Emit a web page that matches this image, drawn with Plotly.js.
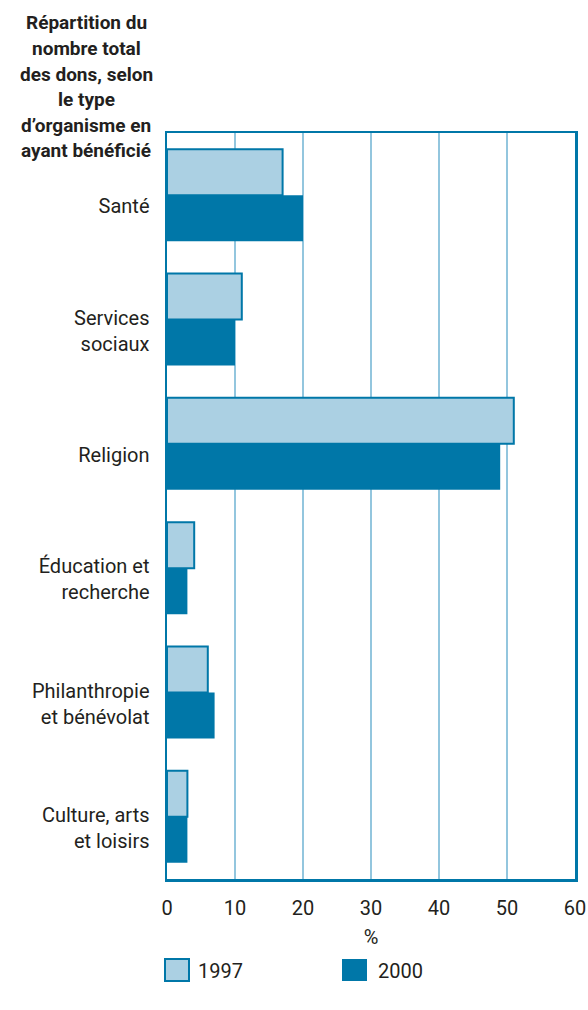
<!DOCTYPE html>
<html>
<head>
<meta charset="utf-8">
<script src="https://cdn.plot.ly/plotly-3.0.1.min.js"></script>
<style>html,body{margin:0;padding:0;background:#fff;}#chart{width:588px;height:1010px;}</style>
</head>
<body>
<div id="chart"></div>
<script>
const categories = ["Santé", "Services<br>sociaux", "Religion", "Éducation et<br>recherche", "Philanthropie<br>et bénévolat", "Culture, arts<br>et loisirs"];
const seriesNames = ["1997", "2000"];
const values1997 = [17, 11, 51, 4, 6, 3];
const values2000 = [20, 10, 49, 3, 7, 3];
const xTicks = [0, 10, 20, 30, 40, 50, 60];
const titleLines = ["Répartition du", "nombre total", "des dons, selon", "le type", "d’organisme en", "ayant bénéficié"];
const xTitle = "%";

const FONT = 'Roboto, "Liberation Sans", Arial, sans-serif';
const DARK = '#0077a8', LIGHT = '#abd0e3', GRID = '#93c6de', TXT = '#231f20';

const L = 167, R = 13, T = 133, B = 131, W = 588, H = 1010;
const pw = W - L - R, ph = H - T - B;
const px = x => (x - L) / pw;
const py = y => (H - B - y) / ph;

const traces = [
  {type: 'bar', orientation: 'h', name: seriesNames[0], y: categories, x: values1997,
   marker: {color: LIGHT, line: {color: DARK, width: 2}}, hoverinfo: 'x+y'},
  {type: 'bar', orientation: 'h', name: seriesNames[1], y: categories, x: values2000,
   marker: {color: DARK, line: {color: DARK, width: 0}}, hoverinfo: 'x+y'}
];

const annotations = titleLines.map((t, i) => ({
  xref: 'paper', yref: 'paper', x: px(86), y: py(23 + i * 25.5), xanchor: 'center', yanchor: 'middle',
  text: '<b>' + t + '</b>', showarrow: false, align: 'center',
  font: {family: FONT, size: 19, color: TXT}
}));
annotations.push(
  {xref: 'paper', yref: 'paper', x: px(196), y: py(971), xanchor: 'left', yanchor: 'middle',
   text: seriesNames[0], showarrow: false, font: {family: FONT, size: 20, color: TXT}},
  {xref: 'paper', yref: 'paper', x: px(376), y: py(971), xanchor: 'left', yanchor: 'middle',
   text: seriesNames[1], showarrow: false, font: {family: FONT, size: 20, color: TXT}}
);

const layout = {
  width: W, height: H,
  margin: {l: L, r: R, t: T, b: B, pad: 0},
  paper_bgcolor: '#fff', plot_bgcolor: '#fff',
  font: {family: FONT, size: 20, color: TXT},
  barmode: 'group', bargap: 0.26, bargroupgap: 0,
  showlegend: false,
  xaxis: {
    range: [0, 60], tickvals: xTicks, ticktext: xTicks.map(String),
    showgrid: true, gridcolor: GRID, gridwidth: 2, zeroline: false,
    showline: true, mirror: true, linecolor: DARK, linewidth: 2.5,
    ticks: '', ticklabelstandoff: 9,
    tickfont: {family: FONT, size: 20, color: TXT},
    title: {text: xTitle, font: {family: FONT, size: 20, color: TXT}, standoff: 12},
    fixedrange: true
  },
  yaxis: {
    type: 'category', categoryorder: 'array', categoryarray: categories,
    autorange: 'reversed',
    showgrid: false, zeroline: false,
    showline: true, mirror: true, linecolor: DARK, linewidth: 2.5,
    ticks: '', ticklabelstandoff: 11, ticklabelshift: -11,
    tickfont: {family: FONT, size: 20, color: TXT},
    fixedrange: true
  },
  annotations: annotations,
  shapes: [
    {type: 'rect', xref: 'paper', yref: 'paper', x0: px(165), x1: px(189), y0: py(981), y1: py(959),
     fillcolor: LIGHT, line: {color: DARK, width: 2}},
    {type: 'rect', xref: 'paper', yref: 'paper', x0: px(342), x1: px(367), y0: py(981), y1: py(959),
     fillcolor: DARK, line: {color: DARK, width: 0}}
  ]
};

Plotly.newPlot('chart', traces, layout, {displayModeBar: false, staticPlot: true});
</script>
</body>
</html>
